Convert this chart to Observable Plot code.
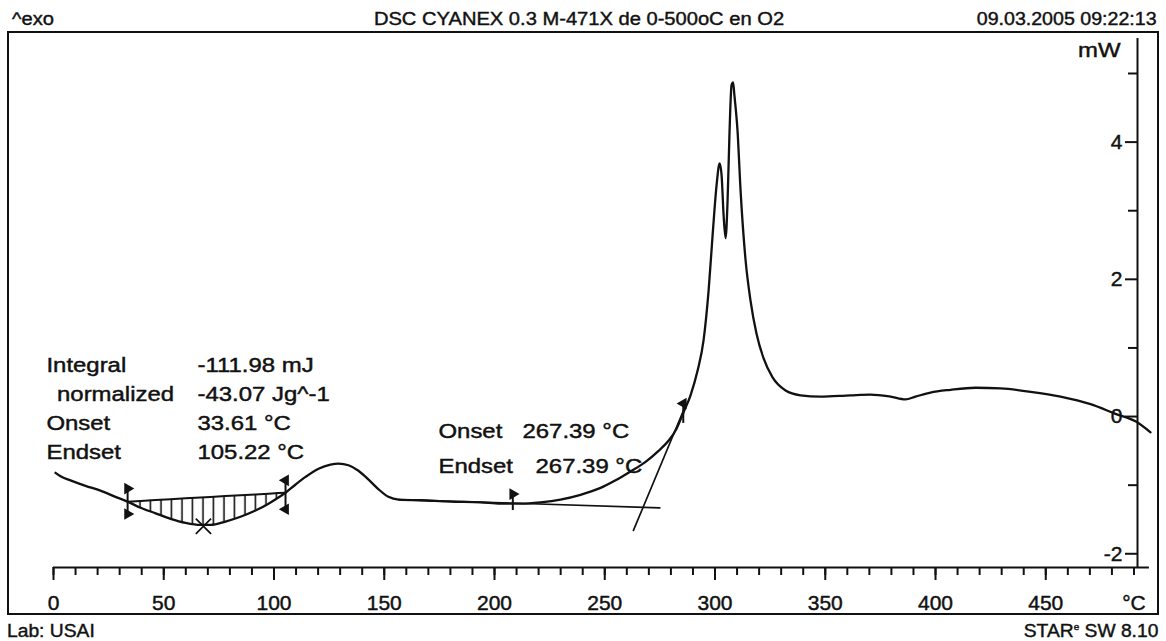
<!DOCTYPE html>
<html>
<head>
<meta charset="utf-8">
<script src="https://cdn.jsdelivr.net/npm/d3@7"></script>
<script src="https://cdn.jsdelivr.net/npm/@observablehq/plot@0.6"></script>
<style>
  body { margin: 0; background: #fff; color: #000; font-family: "Liberation Sans", Arial, sans-serif; }
  #page { position: relative; width: 1166px; height: 641px; overflow: hidden; background: #fff; }
  .head, .foot { position: relative; }
  .head { height: 31px; }
  .foot { height: 26px; }
  .head span, .foot span { position: absolute; font-size: 17.5px; line-height: 1; white-space: nowrap; color: #111; -webkit-text-stroke: 0.4px #111; }
  #frame { margin-left: 7px; width: 1148px; height: 580px; border: 2px solid #111; }
  #frame svg { display: block; }
  #frame svg text { stroke: #111; stroke-width: 0.45px; }
</style>
</head>
<body>
<div id="page">
  <div class="head">
    <span id="exo" style="left:12px; top:11px; transform-origin:left center; transform:scaleX(1.15)"></span>
    <span id="title" style="left:579px; top:11px; transform:translateX(-50%) scaleX(1.15)"></span>
    <span id="stamp" style="right:9px; top:11px; transform-origin:right center; transform:scaleX(1.12)"></span>
  </div>
  <div id="frame"></div>
  <div class="foot">
    <span id="lab" style="left:7px; top:8px; transform-origin:left center; transform:scaleX(1.1)"></span>
    <span id="soft" style="right:8px; top:8px; transform-origin:right center; transform:scaleX(1.1)"></span>
  </div>
</div>
<script>
// ---- header / footer texts ----
const exoLabel = "^exo";
const titleText = "DSC CYANEX 0.3 M-471X de 0-500oC en O2";
const stampText = "09.03.2005 09:22:13";
const labText = "Lab: USAI";
const softText = "STAR";
const softSup = "e";
const softVersion = " SW 8.10";

// ---- DSC trace: temperature (°C) and heat flow (mW) ----
const curveT = [0.9, 3.2, 7.7, 14.5, 21.3, 28.1, 33.61, 39.5, 46.3, 53.1, 59.9, 66.7, 71.2, 78.0, 84.8, 91.6, 97.5, 102.0, 105.22,
  109.8, 114.3, 120.2, 125.6, 129.3, 133.8, 138.3, 142.9, 147.4, 151.9, 156.5, 166.4, 180.0, 193.7, 202.7, 211.8, 220.9,
  229.9, 239.0, 248.1, 254.9, 261.7, 268.5, 274.4, 279.0, 282.5, 285.7, 288.9, 292.1, 294.8, 297.1, 298.9, 300.7, 302.1,
  303.0, 303.9, 304.8, 305.7, 306.6, 307.5, 308.2, 308.8, 310.2, 311.6, 313.8, 316.1, 318.8, 322.0, 326.1, 332.0, 338.8,
  347.8, 361.5, 370.5, 379.6, 386.4, 390.9, 397.7, 406.8, 418.1, 429.5, 443.1, 456.7, 470.3, 481.6, 490.7, 497.5];
const curveP = [-0.82, -0.87, -0.93, -1.01, -1.08, -1.17, -1.24, -1.33, -1.41, -1.49, -1.55, -1.58, -1.58, -1.53, -1.46, -1.37, -1.27, -1.18, -1.11,
  -0.99, -0.88, -0.76, -0.70, -0.685, -0.71, -0.79, -0.92, -1.06, -1.17, -1.21, -1.22, -1.24, -1.25, -1.27, -1.27, -1.25,
  -1.21, -1.14, -1.04, -0.93, -0.80, -0.66, -0.50, -0.35, -0.18, 0.06, 0.31, 0.67, 1.11, 1.84, 2.64, 3.37, 3.69,
  3.51, 2.93, 2.60, 3.15, 4.17, 4.83, 4.87, 4.68, 4.17, 3.29, 2.30, 1.69, 1.21, 0.85, 0.57, 0.38, 0.31,
  0.29, 0.31, 0.32, 0.29, 0.25, 0.29, 0.35, 0.39, 0.42, 0.41, 0.36, 0.29, 0.18, 0.04, -0.07, -0.23];

// ---- evaluation 1: integral ----
const integralOnset = 33.61;
const integralEndset = 105.22;
const integralLabels = ["Integral", "normalized", "Onset", "Endset"];
const integralValues = ["-111.98 mJ", "-43.07 Jg^-1", "33.61 °C", "105.22 °C"];
const peakMinT = 68.0;
const peakMinP = -1.60;

// ---- evaluation 2: onset by tangents ----
const tangentOnset = 267.39;
const tangentEndset = 267.39;
const tangentLabels = ["Onset", "Endset"];
const tangentValues = ["267.39 °C", "267.39 °C"];
const baselineT = [156.5, 275.0];
const baselineP = [-1.21, -1.33];
const slopeT = [263.0, 286.5];
const slopeP = [-1.66, 0.15];
const limitFlagsT = [208.3, 285.6];

// ---- axes ----
const xMinorTicks = d3.range(0, 500, 10);
const xMajorTicks = [0, 50, 100, 150, 200, 250, 300, 350, 400, 450];
const yMinorTicks = [-1, 1, 3, 5];
const yMajorTicks = [-2, 0, 2, 4];
const xUnit = "°C";
const yUnit = "mW";

// ---- header / footer ----
document.getElementById("exo").textContent = exoLabel;
document.getElementById("title").textContent = titleText;
document.getElementById("stamp").textContent = stampText;
document.getElementById("lab").textContent = labText;
const soft = document.getElementById("soft");
soft.append(softText);
const sup = document.createElement("sup");
sup.textContent = softSup;
sup.style.fontSize = "9px";
soft.append(sup, softVersion);

// ---- build tables ----
const curve = curveT.map((T, i) => ({T, P: curveP[i]}));
const pAt = t => curve.find(d => Math.abs(d.T - t) < 1e-9).P;
const p0 = pAt(integralOnset), p1 = pAt(integralEndset);
const integralBase = t => p0 + (t - integralOnset) * (p1 - p0) / (integralEndset - integralOnset);
const integralArea = curve.filter(d => d.T >= integralOnset && d.T <= integralEndset)
  .map(d => ({T: d.T, P: d.P, base: integralBase(d.T)}));
const baseline = baselineT.map((T, i) => ({T, P: baselineP[i]}));
const slope = slopeT.map((T, i) => ({T, P: slopeP[i]}));

const W = 1148, H = 580;
const mL = 44, mR = 20, mT = 5, mB = 46;
const xDomain = [0, 491.6];
const yDomain = [-2.2, 5.51];
const innerW = W - mL - mR;
const ink = "#111";

// integration limit bars with their flag triangles
const limitBars = [
  {T: integralOnset, lo: -1.45, hi: -1.03},
  {T: integralEndset, lo: -1.37, hi: -0.90},
  {T: limitFlagsT[0], lo: -1.37, hi: -1.10},
  {T: limitFlagsT[1], lo: -0.10, hi: 0.22}
];
const flags = [
  {T: integralOnset, P: -1.05, rot: 90},
  {T: integralOnset, P: -1.42, rot: 90},
  {T: integralEndset, P: -0.93, rot: -90},
  {T: integralEndset, P: -1.35, rot: -90},
  {T: limitFlagsT[0], P: -1.13, rot: 90},
  {T: limitFlagsT[1], P: 0.19, rot: -90}
];

const rowsA = [0.754, 0.331, -0.092, -0.515];
const rowsB = [-0.208, -0.719];

const svg = Plot.plot({
  width: W,
  height: H,
  marginLeft: mL, marginRight: mR, marginTop: mT, marginBottom: mB,
  x: {domain: xDomain},
  y: {domain: yDomain},
  style: {fontFamily: '"Liberation Sans", Arial, sans-serif', fontSize: "21px", color: ink, background: "#fff"},
  marks: [
    // hatched integral area
    Plot.areaY(integralArea, {x: "T", y1: "base", y2: "P", fill: "url(#hatch)", curve: "monotone-x"}),
    Plot.line(integralArea, {x: "T", y: "base", stroke: ink, strokeWidth: 2}),
    // tangent construction
    Plot.line(baseline, {x: "T", y: "P", stroke: ink, strokeWidth: 1.7}),
    Plot.line(slope, {x: "T", y: "P", stroke: ink, strokeWidth: 1.7}),
    // the DSC curve
    Plot.line(curve, {x: "T", y: "P", stroke: ink, strokeWidth: 2.3, curve: "monotone-x"}),
    // limits and peak marker
    Plot.ruleX(limitBars, {x: "T", y1: "lo", y2: "hi", stroke: ink, strokeWidth: 2}),
    Plot.dot(flags, {x: "T", y: "P", symbol: "triangle", r: 4.3, fill: ink, rotate: "rot"}),
    Plot.dot([{T: peakMinT, P: peakMinP}], {x: "T", y: "P", symbol: "times", r: 7, stroke: ink, strokeWidth: 1.7}),
    // axes
    Plot.ruleY([yDomain[0]], {x1: 0, x2: 497, stroke: ink, strokeWidth: 2}),
    Plot.ruleX([xDomain[1]], {y1: yDomain[0], y2: yDomain[1], stroke: ink, strokeWidth: 2}),
    Plot.axisX(xMinorTicks, {tickSize: 8, strokeWidth: 2, tickFormat: () => "", label: null}),
    Plot.axisX(xMajorTicks, {tickSize: 13, tickPadding: 15, strokeWidth: 2, fontSize: 21, tickFormat: d => String(d), label: null}),
    Plot.axisY(yMinorTicks, {anchor: "left", dx: innerW, tickSize: 9, strokeWidth: 2, tickFormat: () => "", label: null}),
    Plot.axisY(yMajorTicks, {anchor: "left", dx: innerW, tickSize: 12, tickPadding: 3, strokeWidth: 2, fontSize: 21, tickFormat: d => String(d), label: null}),
    Plot.text([xUnit], {x: 490, y: yDomain[0], dy: 28, lineAnchor: "top", fontSize: 21, text: d => d}),
    Plot.text([yUnit], {x: xDomain[1], y: yDomain[1], dx: -17, dy: 12, textAnchor: "end", fontSize: 21, text: d => d, ariaDescription: "note"}),
    // evaluation notes
    Plot.text(integralLabels, {x: (d, i) => i === 1 ? 1.6 : -3.2, y: (d, i) => rowsA[i],
      text: d => d, textAnchor: "start", fontSize: 21, ariaDescription: "note"}),
    Plot.text(integralValues, {x: 65.3, y: (d, i) => rowsA[i],
      text: d => d, textAnchor: "start", fontSize: 21, ariaDescription: "note"}),
    Plot.text(tangentLabels, {x: 174.6, y: (d, i) => rowsB[i],
      text: d => d, textAnchor: "start", fontSize: 21, ariaDescription: "note"}),
    Plot.text(tangentValues, {x: (d, i) => [212.7, 218.6][i], y: (d, i) => rowsB[i],
      text: d => d, textAnchor: "start", fontSize: 21, ariaDescription: "note"})
  ]
});

// vertical hatching for the integrated area
const defs = d3.select(svg).insert("defs", ":first-child");
defs.append("pattern").attr("id", "hatch").attr("patternUnits", "userSpaceOnUse")
  .attr("width", 10.5).attr("height", 40)
  .append("path").attr("d", "M5,0V40").attr("stroke", ink).attr("stroke-width", 1.6);

// slightly wide lettering for the notes
d3.select(svg).selectAll('g[aria-description="note"] text').each(function () {
  const t = this.getAttribute("transform");
  if (t) this.setAttribute("transform", t + " scale(1.14,1)");
  else {
    const x = +this.getAttribute("x") || 0, y = +this.getAttribute("y") || 0;
    this.setAttribute("transform", `translate(${x},${y}) scale(1.14,1) translate(${-x},${-y})`);
  }
});

document.getElementById("frame").append(svg);
</script>
</body>
</html>
